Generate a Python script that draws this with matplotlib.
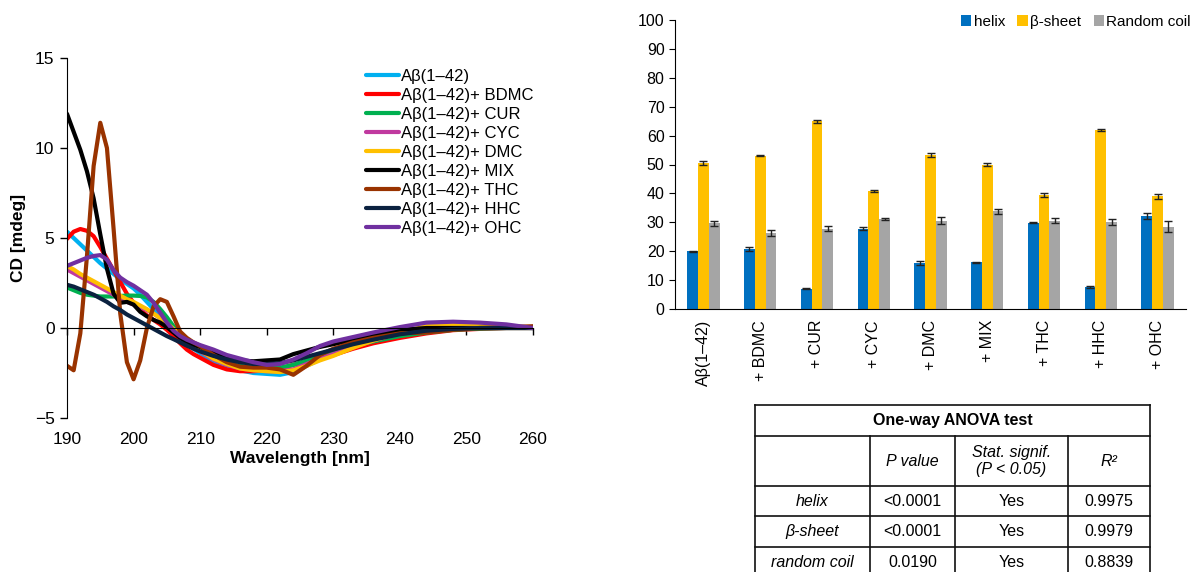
"""CD spectra of Abeta(1-42) with curcuminoids and secondary structure content."""

import matplotlib

matplotlib.use("Agg")
import matplotlib.pyplot as plt  # noqa: E402
import numpy as np  # noqa: E402
from matplotlib.lines import Line2D  # noqa: E402

plt.rcParams["font.family"] = ["Liberation Sans", "DejaVu Sans"]

# ---- CD spectra (left) ----
wavelength = [190, 191, 192, 193, 194, 195, 196, 197, 198, 199, 200,
              201, 202, 203, 204, 205, 206, 207, 208, 209, 210,
              212, 214, 216, 218, 220, 222, 224, 226, 228, 230,
              233, 236, 240, 244, 248, 252, 256, 260]

cd_abeta = [5.35, 5.0, 4.65, 4.3, 3.95, 3.6, 3.3, 3.0, 2.7, 2.45, 2.2,
            1.85, 1.45, 1.05, 0.65, 0.3, -0.1, -0.5, -0.85, -1.15, -1.4,
            -1.85, -2.2, -2.35, -2.5, -2.55, -2.6, -2.45, -2.1, -1.75, -1.5,
            -1.1, -0.8, -0.4, -0.05, 0.05, 0.05, 0.03, 0.0]
cd_bdmc = [4.95, 5.35, 5.5, 5.4, 5.1, 4.5, 3.85, 3.2, 2.55, 1.9, 1.4,
           1.0, 0.7, 0.45, 0.2, -0.1, -0.45, -0.85, -1.2, -1.45, -1.65,
           -2.05, -2.3, -2.4, -2.4, -2.35, -2.25, -2.05, -1.9, -1.7, -1.5,
           -1.15, -0.85, -0.55, -0.3, -0.12, -0.05, 0.0, 0.0]
cd_cur = [2.25, 2.1, 1.95, 1.85, 1.8, 1.75, 1.75, 1.75, 1.78, 1.8, 1.8,
          1.78, 1.7, 1.45, 1.05, 0.6, 0.1, -0.35, -0.7, -0.95, -1.2,
          -1.65, -1.95, -2.1, -2.2, -2.2, -2.2, -2.05, -1.8, -1.5, -1.3,
          -1.0, -0.75, -0.45, -0.25, -0.1, -0.03, 0.0, 0.0]
cd_cyc = [3.25, 3.05, 2.85, 2.65, 2.45, 2.25, 2.05, 1.85, 1.65, 1.45, 1.3,
          1.15, 1.0, 0.8, 0.55, 0.25, -0.1, -0.4, -0.75, -1.05, -1.3,
          -1.75, -2.05, -2.25, -2.35, -2.4, -2.4, -2.3, -2.0, -1.7, -1.45,
          -1.05, -0.7, -0.3, 0.0, 0.1, 0.1, 0.05, 0.0]
cd_dmc = [3.45, 3.25, 3.0, 2.8, 2.6, 2.4, 2.2, 2.0, 1.8, 1.6, 1.45,
          1.25, 1.05, 0.8, 0.55, 0.25, -0.05, -0.35, -0.7, -1.0, -1.25,
          -1.7, -2.0, -2.25, -2.35, -2.4, -2.45, -2.35, -2.1, -1.8, -1.55,
          -1.1, -0.7, -0.25, 0.1, 0.2, 0.18, 0.1, 0.02]
cd_mix = [11.9, 10.9, 9.9, 8.7, 7.2, 5.2, 3.3, 1.9, 1.4, 1.45, 1.3,
          0.9, 0.65, 0.45, 0.3, 0.05, -0.25, -0.55, -0.8, -0.95, -1.05,
          -1.35, -1.6, -1.8, -1.85, -1.8, -1.75, -1.45, -1.25, -1.05, -0.9,
          -0.65, -0.4, -0.1, 0.0, 0.0, 0.0, 0.0, 0.0]
cd_thc = [-2.1, -2.35, -0.3, 4.0, 9.0, 11.4, 10.0, 5.5, 0.8, -1.9, -2.85,
          -1.8, 0.0, 1.2, 1.6, 1.45, 0.65, -0.2, -0.55, -0.8, -1.0,
          -1.5, -1.9, -2.15, -2.2, -2.2, -2.3, -2.6, -2.1, -1.5, -1.15,
          -0.8, -0.55, -0.3, -0.25, -0.1, 0.0, 0.05, 0.1]
cd_hhc = [2.4, 2.3, 2.15, 2.0, 1.85, 1.65, 1.45, 1.2, 1.0, 0.75, 0.55,
          0.35, 0.15, -0.05, -0.25, -0.45, -0.62, -0.8, -0.98, -1.15, -1.3,
          -1.55, -1.75, -1.9, -2.0, -2.0, -1.95, -1.8, -1.6, -1.4, -1.2,
          -0.9, -0.65, -0.35, -0.15, -0.05, 0.0, 0.0, 0.0]
cd_ohc = [3.45, 3.6, 3.75, 3.9, 4.0, 4.05, 3.8, 3.2, 2.8, 2.55, 2.35,
          2.1, 1.85, 1.4, 0.85, 0.3, -0.15, -0.45, -0.65, -0.8, -0.95,
          -1.2, -1.5, -1.7, -1.9, -2.05, -2.0, -1.75, -1.4, -1.0, -0.75,
          -0.5, -0.25, 0.05, 0.3, 0.35, 0.3, 0.2, 0.0]

spectra_labels = ["Aβ(1–42)", "Aβ(1–42)+ BDMC", "Aβ(1–42)+ CUR", "Aβ(1–42)+ CYC",
                  "Aβ(1–42)+ DMC", "Aβ(1–42)+ MIX", "Aβ(1–42)+ THC",
                  "Aβ(1–42)+ HHC", "Aβ(1–42)+ OHC"]
spectra_colors = ["#00B0F0", "#FF0000", "#00B050", "#C0399F", "#FFC000",
                  "#000000", "#993300", "#0B2240", "#7030A0"]

# ---- secondary structure (right) ----
groups = ["Aβ(1–42)", "+ BDMC", "+ CUR", "+ CYC", "+ DMC", "+ MIX", "+ THC", "+ HHC", "+ OHC"]
helix = [19.9, 20.7, 7.0, 27.8, 15.9, 16.1, 29.8, 7.6, 32.2]
helix_err = [0.3, 0.8, 0.2, 0.5, 0.6, 0.3, 0.2, 0.5, 1.1]
sheet = [50.5, 53.1, 64.9, 40.9, 53.4, 50.0, 39.5, 62.0, 39.0]
sheet_err = [0.6, 0.3, 0.4, 0.4, 0.7, 0.6, 0.7, 0.4, 0.9]
coil = [29.6, 26.3, 27.8, 31.1, 30.5, 33.8, 30.6, 30.1, 28.5]
coil_err = [0.9, 1.1, 0.8, 0.4, 1.2, 0.9, 0.8, 1.0, 2.0]

# ---- ANOVA table ----
table_title = "One-way ANOVA test"
table_header = ["", "P value", "Stat. signif.\n(P < 0.05)", "R²"]
table_rows = [
    ["helix", "<0.0001", "Yes", "0.9975"],
    ["β-sheet", "<0.0001", "Yes", "0.9979"],
    ["random coil", "0.0190", "Yes", "0.8839"],
]

W, H = 1196, 572
fig = plt.figure(figsize=(W / 100, H / 100), dpi=100)


def fx(px):
    return px / W


def fy(py):
    return 1 - py / H


# left: CD spectra
ax1 = fig.add_axes([fx(67), fy(418), fx(533) - fx(67), fy(58) - fy(418)])
for values, label, color in zip(
    [cd_abeta, cd_bdmc, cd_cur, cd_cyc, cd_dmc, cd_mix, cd_thc, cd_hhc, cd_ohc],
    spectra_labels, spectra_colors,
):
    ax1.plot(wavelength, values, color=color, lw=3, label=label,
             solid_joinstyle="round", solid_capstyle="round")
ax1.set_xlim(190, 260)
ax1.set_ylim(-5, 15)
ax1.set_yticks([-5, 0, 5, 10, 15])
ax1.set_yticklabels(["−5", "0", "5", "10", "15"])
ax1.spines["top"].set_visible(False)
ax1.spines["right"].set_visible(False)
ax1.spines["bottom"].set_position(("data", 0))
ax1.set_xticks(np.arange(190, 261, 10))
ax1.tick_params(axis="x", labelbottom=False, direction="out", length=5, width=1)
ax1.tick_params(axis="y", direction="out", length=5, width=1, labelsize=12.5, pad=4)
sec = ax1.secondary_xaxis("bottom")
sec.set_xticks(np.arange(190, 261, 10))
sec.tick_params(length=0, labelsize=12.5, pad=10)
sec.spines["bottom"].set_visible(False)
sec.set_xlabel("Wavelength [nm]", fontsize=12.5, fontweight="bold", labelpad=3)
ax1.set_ylabel("CD [mdeg]", fontsize=12.5, fontweight="bold", labelpad=6)
ax1.legend(loc="upper left", bbox_to_anchor=(fx(366), fy(69)), bbox_transform=fig.transFigure,
           frameon=False, fontsize=12, handlelength=2.0, handletextpad=0.1,
           labelspacing=0.24, borderaxespad=0, borderpad=0)

# right: bar chart
ax2 = fig.add_axes([fx(675), fy(309), fx(1186) - fx(675), fy(20) - fy(309)])
x = np.arange(len(groups))
bw = 0.19
err_kw = dict(ecolor="#222222", elinewidth=1, capsize=3, capthick=1)
ax2.bar(x - bw, helix, bw, yerr=helix_err, color="#0070C0", label="helix", error_kw=err_kw)
ax2.bar(x, sheet, bw, yerr=sheet_err, color="#FFC000", label="β-sheet", error_kw=err_kw)
ax2.bar(x + bw, coil, bw, yerr=coil_err, color="#A5A5A5", label="Random coil", error_kw=err_kw)
ax2.set_xlim(-0.5, len(groups) - 0.5)
ax2.set_ylim(0, 100)
ax2.set_yticks(np.arange(0, 101, 10))
ax2.set_xticks(x)
ax2.set_xticklabels(groups, rotation=90, fontsize=11.5)
ax2.tick_params(axis="x", length=0, pad=8)
ax2.tick_params(axis="y", direction="out", length=4, labelsize=11.5)
ax2.spines["top"].set_visible(False)
ax2.spines["right"].set_visible(False)
ax2.legend(loc="upper right", bbox_to_anchor=(fx(1191), fy(15)), bbox_transform=fig.transFigure,
           ncol=3, frameon=False, fontsize=11, handlelength=0.7, handleheight=0.7,
           handletextpad=0.15, columnspacing=0.8, borderaxespad=0, borderpad=0)

# ANOVA table drawn with figure lines and text
cols = [755, 870, 955, 1068, 1150]
rows = [405, 436, 486, 516, 547, 578]
line_kw = dict(color="#111111", lw=1.2, transform=fig.transFigure, clip_on=False)
for r in rows:
    fig.add_artist(Line2D([fx(cols[0]), fx(cols[-1])], [fy(r), fy(r)], **line_kw))
for c in (cols[0], cols[-1]):
    fig.add_artist(Line2D([fx(c), fx(c)], [fy(rows[0]), fy(rows[-1])], **line_kw))
for c in cols[1:-1]:
    fig.add_artist(Line2D([fx(c), fx(c)], [fy(rows[1]), fy(rows[-1])], **line_kw))

fig.text(fx((cols[0] + cols[-1]) / 2), fy((rows[0] + rows[1]) / 2), table_title,
         ha="center", va="center", fontsize=11.5, fontweight="bold")
for j, txt in enumerate(table_header):
    fig.text(fx((cols[j] + cols[j + 1]) / 2), fy((rows[1] + rows[2]) / 2), txt,
             ha="center", va="center", fontsize=11.5, style="italic", linespacing=1.1)
for i, row in enumerate(table_rows):
    for j, txt in enumerate(row):
        fig.text(fx((cols[j] + cols[j + 1]) / 2), fy((rows[i + 2] + rows[i + 3]) / 2), txt,
                 ha="center", va="center", fontsize=11.5,
                 style="italic" if j == 0 else "normal")

fig.savefig("out.png", dpi=100)
